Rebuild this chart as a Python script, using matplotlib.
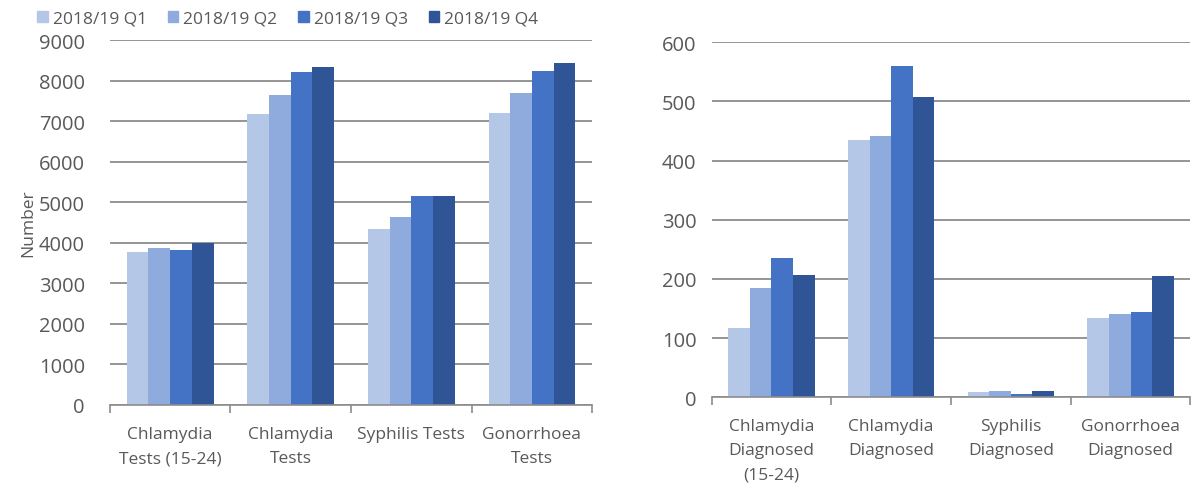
import numpy as np
import matplotlib
matplotlib.use("Agg")
import matplotlib.pyplot as plt
from matplotlib.patches import Patch

# Data
series = ["2018/19 Q1", "2018/19 Q2", "2018/19 Q3", "2018/19 Q4"]
colors = ["#b4c7e7", "#8faadc", "#4472c4", "#2f5597"]

test_labels = ["Chlamydia\nTests (15-24)", "Chlamydia\nTests", "Syphilis Tests", "Gonorrhoea\nTests"]
tests_q1 = [3780, 7170, 4340, 7210]
tests_q2 = [3870, 7640, 4650, 7700]
tests_q3 = [3820, 8220, 5160, 8250]
tests_q4 = [4000, 8350, 5160, 8440]

diag_labels = ["Chlamydia\nDiagnosed\n(15-24)", "Chlamydia\nDiagnosed", "Syphilis\nDiagnosed", "Gonorrhoea\nDiagnosed"]
diag_q1 = [117, 434, 8, 134]
diag_q2 = [185, 441, 11, 140]
diag_q3 = [236, 559, 5, 144]
diag_q4 = [206, 507, 11, 204]

plt.rcParams['font.family'] = ['Open Sans', 'DejaVu Sans']
txt = "#595959"
grid = "#8c8c8c"

fig = plt.figure(figsize=(11.94, 4.85), dpi=100)
ax1 = fig.add_axes([0.092, 0.163, 0.404, 0.752])
ax2 = fig.add_axes([0.596, 0.179, 0.401, 0.732])


def draw(ax, labels, vals, ymax, step):
    x = np.arange(len(labels))
    w = 0.18
    for i, v in enumerate(vals):
        ax.bar(x + (i - 1.5) * w, v, w, color=colors[i], zorder=3)
    ax.set_xlim(-0.5, len(labels) - 0.5)
    ax.set_ylim(0, ymax)
    ax.set_yticks(np.arange(0, ymax + 1, step))
    ax.set_xticks(x)
    ax.set_xticklabels(labels, fontsize=12.5, color=txt, linespacing=1.7)
    ax.set_xticks(np.arange(-0.5, len(labels)), minor=True)
    ax.tick_params(axis='x', which='major', length=0, pad=15)
    ax.tick_params(axis='x', which='minor', length=6, color=grid, width=1.2)
    ax.tick_params(axis='y', length=0, labelsize=14.5, labelcolor=txt, pad=18)
    ax.yaxis.grid(True, color=grid, linewidth=1.3, zorder=0)
    for s in ['top', 'right', 'left']:
        ax.spines[s].set_visible(False)
    ax.spines['bottom'].set_color(grid)
    ax.spines['bottom'].set_linewidth(1.2)
    ax.spines['bottom'].set_zorder(4)


draw(ax1, test_labels, [tests_q1, tests_q2, tests_q3, tests_q4], 9000, 1000)
draw(ax2, diag_labels, [diag_q1, diag_q2, diag_q3, diag_q4], 600, 100)
ax2.tick_params(axis='y', pad=11)

ax1.set_ylabel("Number", fontsize=12.5, color=txt, labelpad=2)

handles = [Patch(color=c, label=s) for c, s in zip(colors, series)]
fig.legend(handles=handles, loc='upper left', bbox_to_anchor=(0.018, 1.008), ncol=4,
           frameon=False, fontsize=12.5, handlelength=0.6, handleheight=0.6,
           handletextpad=0.3, columnspacing=1.2, labelcolor=txt)

fig.savefig("out.png", dpi=100)
